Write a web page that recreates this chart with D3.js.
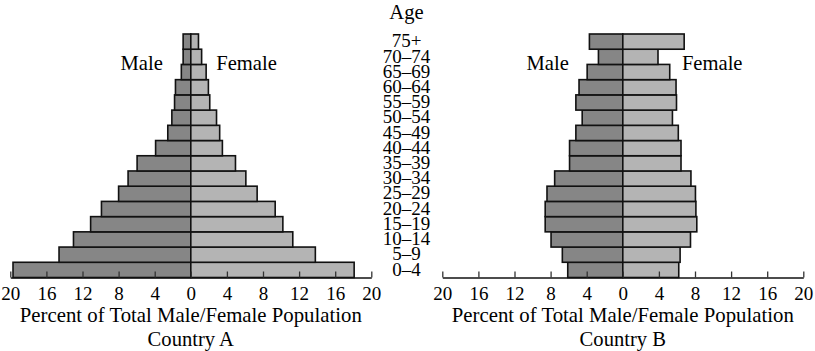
<!DOCTYPE html>
<html>
<head>
<meta charset="utf-8">
<script src="https://cdn.jsdelivr.net/npm/d3@7"></script>
<style>
  html, body { margin: 0; padding: 0; background: #fff; }
  svg { display: block; font-family: "Liberation Serif", "Times New Roman", serif; }
</style>
</head>
<body>
<svg id="chart" width="815" height="351"></svg>
<script>
// Age groups, bottom to top
const ages = ["0–4","5–9","10–14","15–19","20–24","25–29","30–34","35–39","40–44","45–49","50–54","55–59","60–64","65–69","70–74","75+"];

// Country A (percent of total male / female population)
const maleA   = [19.7, 14.6, 13.0, 11.1, 9.9, 8.0, 6.95, 5.95, 3.9, 2.55, 2.1, 1.8, 1.7, 1.05, 0.85, 0.85];
const femaleA = [18.1, 13.8, 11.3, 10.2, 9.35, 7.35, 6.1, 4.95, 3.5, 3.2, 2.85, 2.1, 1.95, 1.7, 1.2, 0.85];

// Country B
const maleB   = [6.1, 6.7, 7.95, 8.6, 8.6, 8.4, 7.55, 5.9, 5.9, 5.2, 4.5, 5.2, 4.85, 3.95, 2.7, 3.7];
const femaleB = [6.2, 6.35, 7.5, 8.2, 8.1, 8.05, 7.55, 6.45, 6.45, 6.15, 5.5, 5.95, 5.9, 5.2, 3.9, 6.8];

const tickValues = [-20, -16, -12, -8, -4, 0, 4, 8, 12, 16, 20];
const xLabel = "Percent of Total Male/Female Population";
const countryNames = ["Country A", "Country B"];
const sexLabels = ["Male", "Female"];
const ageTitle = "Age";

const svg = d3.select("#chart");
const FS = 19;      // tick + age labels
const FT = 20.6;    // titles
const axisY = 277.5;
const topY = 34;

const y = d3.scaleBand().domain(ages).range([axisY, topY]).padding(0);

const panels = [
  { name: countryNames[0], male: maleA, female: femaleA, range: [10.3, 371.3], maleLabelX: 141.7, femaleLabelX: 246.5 },
  { name: countryNames[1], male: maleB, female: femaleB, range: [442.3, 803.3], maleLabelX: 547.7, femaleLabelX: 712.2 }
];

panels.forEach(p => {
  const x = d3.scaleLinear().domain([-20, 20]).range(p.range);
  const g = svg.append("g");

  // male bars
  g.selectAll("rect.m").data(ages).join("rect")
    .attr("class", "m")
    .attr("x", (d, i) => x(-p.male[i]))
    .attr("y", d => y(d))
    .attr("width", (d, i) => x(0) - x(-p.male[i]))
    .attr("height", y.bandwidth())
    .attr("fill", "#868686")
    .attr("stroke", "#111")
    .attr("stroke-width", 1.6);

  // female bars
  g.selectAll("rect.f").data(ages).join("rect")
    .attr("class", "f")
    .attr("x", x(0))
    .attr("y", d => y(d))
    .attr("width", (d, i) => x(p.female[i]) - x(0))
    .attr("height", y.bandwidth())
    .attr("fill", "#b4b4b4")
    .attr("stroke", "#111")
    .attr("stroke-width", 1.6);

  // axis
  const axis = d3.axisBottom(x)
    .tickValues(tickValues)
    .tickFormat(d => Math.abs(d))
    .tickSizeInner(-6)
    .tickSizeOuter(0)
    .tickPadding(9);
  const ag = g.append("g").attr("transform", `translate(0,${axisY})`).call(axis);
  ag.select(".domain").attr("stroke", "#111").attr("stroke-width", 1.6);
  ag.selectAll(".tick line").attr("stroke", "#333").attr("stroke-width", 1.3);
  ag.selectAll(".tick text").attr("font-size", FS).attr("font-family", "Liberation Serif").attr("fill", "#000");

  const cx = (p.range[0] + p.range[1]) / 2;
  g.append("text").attr("x", cx).attr("y", 321.5).attr("text-anchor", "middle")
    .attr("font-size", FT).attr("textLength", 342).attr("lengthAdjust", "spacingAndGlyphs").text(xLabel);
  g.append("text").attr("x", cx).attr("y", 346).attr("text-anchor", "middle")
    .attr("font-size", FT).text(p.name);

  g.append("text").attr("x", p.maleLabelX).attr("y", 70).attr("text-anchor", "middle")
    .attr("font-size", FT).text(sexLabels[0]);
  g.append("text").attr("x", p.femaleLabelX).attr("y", 70).attr("text-anchor", "middle")
    .attr("font-size", FT).text(sexLabels[1]);
});

// Age labels in the middle
const ageX = 406.5;
svg.append("text").attr("x", ageX).attr("y", 19).attr("text-anchor", "middle")
  .attr("font-size", FT).text(ageTitle);
svg.append("g").selectAll("text").data(ages).join("text")
  .attr("x", ageX)
  .attr("y", d => y(d) + y.bandwidth() / 2)
  .attr("dy", "0.3em")
  .attr("text-anchor", "middle")
  .attr("font-size", FS)
  .text(d => d);
</script>
</body>
</html>
